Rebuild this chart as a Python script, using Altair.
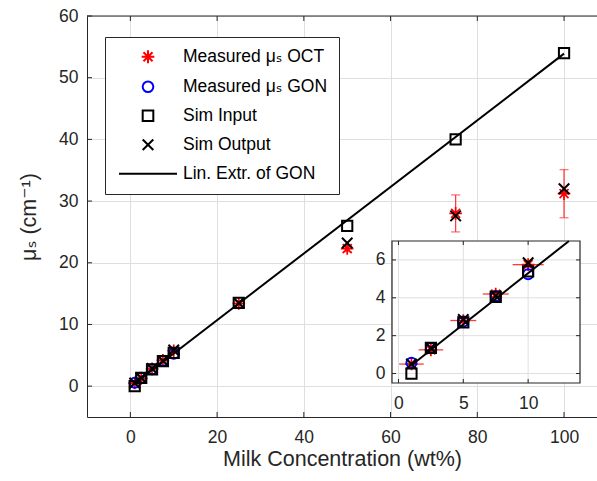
import altair as alt
import pandas as pd
import numpy as np

FONT = "Liberation Sans, Arial, Helvetica, DejaVu Sans, sans-serif"
TXT = "#262626"
GRID = "#dfdfdf"

# ---------------- data ----------------
conc = [1, 2.5, 5, 7.5, 10, 25, 50, 75, 100]
oct_mu = [0.5, 1.25, 2.8, 4.2, 5.75, 13.4, 22.3, 28.0, 31.2]
oct_yerr = [0.1, 0.1, 0.15, 0.2, 0.25, 0.4, 0.5, 3.0, 3.9]
oct_xerr = [0.95, 0.95, 1.0, 1.0, 1.2, 1.0, 1.0, 1.0, 1.0]
gon_conc = [1, 2.5, 5, 7.5, 10]
gon_mu = [0.57, 1.35, 2.75, 4.1, 5.25]
sim_in = [0.0, 1.35, 2.7, 4.05, 5.4, 13.5, 26.0, 40.0, 54.0]
sim_out = [0.5, 1.35, 2.85, 4.1, 5.85, 13.5, 23.2, 27.6, 32.0]
line_conc = [1, 100]
line_mu = [0.44, 53.9]

x_ticks = [0, 20, 40, 60, 80, 100]
y_ticks = [0, 10, 20, 30, 40, 50, 60]
ix_ticks = [0, 5, 10]
iy_ticks = [0, 2, 4, 6]

S_OCT = "Measured μₛ OCT"
S_GON = "Measured μₛ GON"
S_IN = "Sim Input"
S_OUT = "Sim Output"
S_LIN = "Lin. Extr. of GON"
names = [S_OCT, S_GON, S_IN, S_OUT, S_LIN]

STAR = "M-1.2,0L1.2,0M0,-1.2L0,1.2M-0.85,-0.85L0.85,0.85M-0.85,0.85L0.85,-0.85"
XSH = "M-1,-1L1,1M-1,1L1,-1"
LINESH = "M-5.46,0L5.46,0"

oct_df = pd.DataFrame({"conc": conc, "mu": oct_mu, "series": S_OCT})
oct_df["lo"] = oct_df["mu"] - np.array(oct_yerr)
oct_df["hi"] = oct_df["mu"] + np.array(oct_yerr)
oct_df["xlo"] = oct_df["conc"] - np.array(oct_xerr)
oct_df["xhi"] = oct_df["conc"] + np.array(oct_xerr)
gon_df = pd.DataFrame({"conc": gon_conc, "mu": gon_mu, "series": S_GON})
in_df = pd.DataFrame({"conc": conc, "mu": sim_in, "series": S_IN})
out_df = pd.DataFrame({"conc": conc, "mu": sim_out, "series": S_OUT})
line_df = pd.DataFrame({"conc": line_conc, "mu": line_mu, "series": S_LIN})

# inset domain and line clipped to the inset top
IX_DOM = [-0.5, 14]
IY_DOM = [-0.5, 7]
x_top = float(np.interp(IY_DOM[1], line_mu, line_conc))
iline_df = pd.DataFrame({"conc": [line_conc[0], x_top], "mu": [line_mu[0], IY_DOM[1]]})

# ---------------- geometry ----------------
W, H = 510, 401
IX0, IX1, IY0, IY1 = 305, 493, 367, 225  # inset pixel box inside plot area

color_scale = alt.Scale(domain=names, range=["#ff0000", "#0000ff", "#000000", "#000000", "#000000"])
shape_scale = alt.Scale(domain=names, range=[STAR, "circle", "square", XSH, LINESH])

xs = alt.Scale(domain=[-10, 107.6], nice=False, zero=False)
ys = alt.Scale(domain=[-5, 60], nice=False, zero=False)

x_axis = alt.Axis(values=x_ticks, title="Milk Concentration (wt%)", grid=True, gridColor=GRID,
                  ticks=False, domainColor=TXT, labelColor=TXT, labelFont=FONT, labelFontSize=17.5,
                  labelPadding=11, labelFlush=False, titleFont=FONT, titleFontSize=21.5,
                  titleFontWeight="normal", titleColor=TXT, titlePadding=3)
y_axis = alt.Axis(values=y_ticks, title="μₛ (cm⁻¹)", grid=True, gridColor=GRID,
                  ticks=False, domainColor=TXT, labelColor=TXT, labelFont=FONT, labelFontSize=17.5,
                  labelPadding=9, labelFlush=False, titleFont=FONT, titleFontSize=21.5,
                  titleFontWeight="normal", titleColor=TXT, titlePadding=18)

legend = alt.Legend(orient="none", legendX=18, legendY=21, title=None, strokeColor=TXT,
                    fillColor="white", padding=11, labelFont=FONT, labelFontSize=17.5,
                    labelColor="black", symbolOffset=23.25, labelOffset=26.25, rowPadding=9,
                    symbolSize=113, symbolStrokeWidth=2, labelLimit=400)


def X(f):
    return alt.X(f, type="quantitative", scale=xs, axis=x_axis)


def Y(f):
    return alt.Y(f, type="quantitative", scale=ys, axis=y_axis)


color_enc = alt.Color("series:N", scale=color_scale, legend=legend)
shape_enc = alt.Shape("series:N", scale=shape_scale, legend=legend)

ERR = "#ff3b3b"
SW = 2.0

main_layers = [
    alt.Chart(oct_df).mark_rule(color=ERR, strokeWidth=1.3).encode(x=X("conc"), y=Y("lo"), y2="hi"),
    alt.Chart(oct_df).mark_tick(color=ERR, orient="horizontal", size=9, thickness=1.3).encode(x=X("conc"), y=Y("lo")),
    alt.Chart(oct_df).mark_tick(color=ERR, orient="horizontal", size=9, thickness=1.3).encode(x=X("conc"), y=Y("hi")),
    alt.Chart(oct_df).mark_rule(color=ERR, strokeWidth=1.3).encode(x=X("xlo"), x2="xhi", y=Y("mu")),
    alt.Chart(oct_df).mark_point(filled=False, size=110, strokeWidth=1.7, opacity=1).encode(
        x=X("conc"), y=Y("mu"), color=color_enc, shape=shape_enc),
    alt.Chart(gon_df).mark_point(filled=False, size=100, strokeWidth=SW, opacity=1).encode(
        x=X("conc"), y=Y("mu"), color=color_enc, shape=shape_enc),
    alt.Chart(in_df).mark_point(filled=False, size=105, strokeWidth=SW, opacity=1).encode(
        x=X("conc"), y=Y("mu"), color=color_enc, shape=shape_enc),
    alt.Chart(out_df).mark_point(filled=False, size=110, strokeWidth=SW, opacity=1).encode(
        x=X("conc"), y=Y("mu"), color=color_enc, shape=shape_enc),
    alt.Chart(line_df).mark_line(strokeWidth=2).encode(x=X("conc"), y=Y("mu"), color=color_enc),
    # inward ticks
    alt.Chart(pd.DataFrame({"t": x_ticks})).mark_rule(color=TXT).encode(x=X("t"), y=alt.value(H), y2=alt.value(H - 5)),
    alt.Chart(pd.DataFrame({"t": x_ticks})).mark_rule(color=TXT).encode(x=X("t"), y=alt.value(0), y2=alt.value(5)),
    alt.Chart(pd.DataFrame({"t": y_ticks})).mark_rule(color=TXT).encode(y=Y("t"), x=alt.value(0), x2=alt.value(5)),
    # top border
    alt.Chart(pd.DataFrame({"d": [0]})).mark_rule(color=TXT).encode(x=alt.value(0), x2=alt.value(W), y=alt.value(0)),
]
main = alt.layer(*main_layers)

# ---------------- inset ----------------
ixs = alt.Scale(domain=IX_DOM, range=[IX0, IX1], nice=False, zero=False)
iys = alt.Scale(domain=IY_DOM, range=[IY0, IY1], nice=False, zero=False)
ix_axis = alt.Axis(values=ix_ticks, orient="bottom", offset=-(H - IY0), domain=False, ticks=False,
                   grid=False, labelColor=TXT, labelFont=FONT, labelFontSize=17.5, labelPadding=11,
                   labelFlush=False, title=None)
iy_axis = alt.Axis(values=iy_ticks, orient="left", offset=-IX0, domain=False, ticks=False,
                   grid=False, labelColor=TXT, labelFont=FONT, labelFontSize=17.5, labelPadding=7,
                   labelFlush=False, title=None)


def IX(f):
    return alt.X(f, type="quantitative", scale=ixs, axis=ix_axis)


def IY(f):
    return alt.Y(f, type="quantitative", scale=iys, axis=iy_axis)


box_df = pd.DataFrame({"x0": [IX_DOM[0]], "x1": [IX_DOM[1]], "y0": [IY_DOM[0]], "y1": [IY_DOM[1]]})
flt = f"datum.conc <= {IX_DOM[1]}"

inset_layers = [
    alt.Chart(box_df).mark_rect(fill="white").encode(x=IX("x0"), x2="x1", y=IY("y0"), y2="y1"),
    alt.Chart(pd.DataFrame({"t": ix_ticks})).mark_rule(color=GRID).encode(x=IX("t"), y=alt.value(IY1), y2=alt.value(IY0)),
    alt.Chart(pd.DataFrame({"t": iy_ticks})).mark_rule(color=GRID).encode(y=IY("t"), x=alt.value(IX0), x2=alt.value(IX1)),
    alt.Chart(oct_df).transform_filter(flt).mark_rule(color=ERR, strokeWidth=1.3).encode(x=IX("conc"), y=IY("lo"), y2="hi"),
    alt.Chart(oct_df).transform_filter(flt).mark_rule(color=ERR, strokeWidth=1.3).encode(x=IX("xlo"), x2="xhi", y=IY("mu")),
    alt.Chart(oct_df).transform_filter(flt).mark_point(filled=False, size=110, strokeWidth=1.7, opacity=1, color="#ff0000", shape=STAR).encode(
        x=IX("conc"), y=IY("mu")),
    alt.Chart(gon_df).transform_filter(flt).mark_point(filled=False, size=100, strokeWidth=SW, opacity=1, color="#0000ff", shape="circle").encode(
        x=IX("conc"), y=IY("mu")),
    alt.Chart(in_df).transform_filter(flt).mark_point(filled=False, size=105, strokeWidth=SW, opacity=1, color="#000000", shape="square").encode(
        x=IX("conc"), y=IY("mu")),
    alt.Chart(out_df).transform_filter(flt).mark_point(filled=False, size=110, strokeWidth=SW, opacity=1, color="#000000", shape=XSH).encode(
        x=IX("conc"), y=IY("mu")),
    alt.Chart(iline_df).mark_line(strokeWidth=2, color="#000000").encode(x=IX("conc"), y=IY("mu")),
    # inset border
    alt.Chart(box_df).mark_rect(fill=None, stroke=TXT, strokeWidth=1.2).encode(x=IX("x0"), x2="x1", y=IY("y0"), y2="y1"),
    # inset inward ticks
    alt.Chart(pd.DataFrame({"t": ix_ticks})).mark_rule(color=TXT).encode(x=IX("t"), y=alt.value(IY0), y2=alt.value(IY0 - 4)),
    alt.Chart(pd.DataFrame({"t": ix_ticks})).mark_rule(color=TXT).encode(x=IX("t"), y=alt.value(IY1), y2=alt.value(IY1 + 4)),
    alt.Chart(pd.DataFrame({"t": iy_ticks})).mark_rule(color=TXT).encode(y=IY("t"), x=alt.value(IX0), x2=alt.value(IX0 + 4)),
    alt.Chart(pd.DataFrame({"t": iy_ticks})).mark_rule(color=TXT).encode(y=IY("t"), x=alt.value(IX1), x2=alt.value(IX1 - 4)),
]
inset = alt.layer(*inset_layers)

chart = alt.layer(main, inset).resolve_scale(x="independent", y="independent").properties(
    width=W, height=H,
    padding={"left": 87, "top": 16, "right": 0, "bottom": 65},
    autosize=alt.AutoSizeParams(type="none"),
    background="white",
).configure_view(stroke=None)

chart.save("out.html", embed_options={"renderer": "svg", "actions": False})
